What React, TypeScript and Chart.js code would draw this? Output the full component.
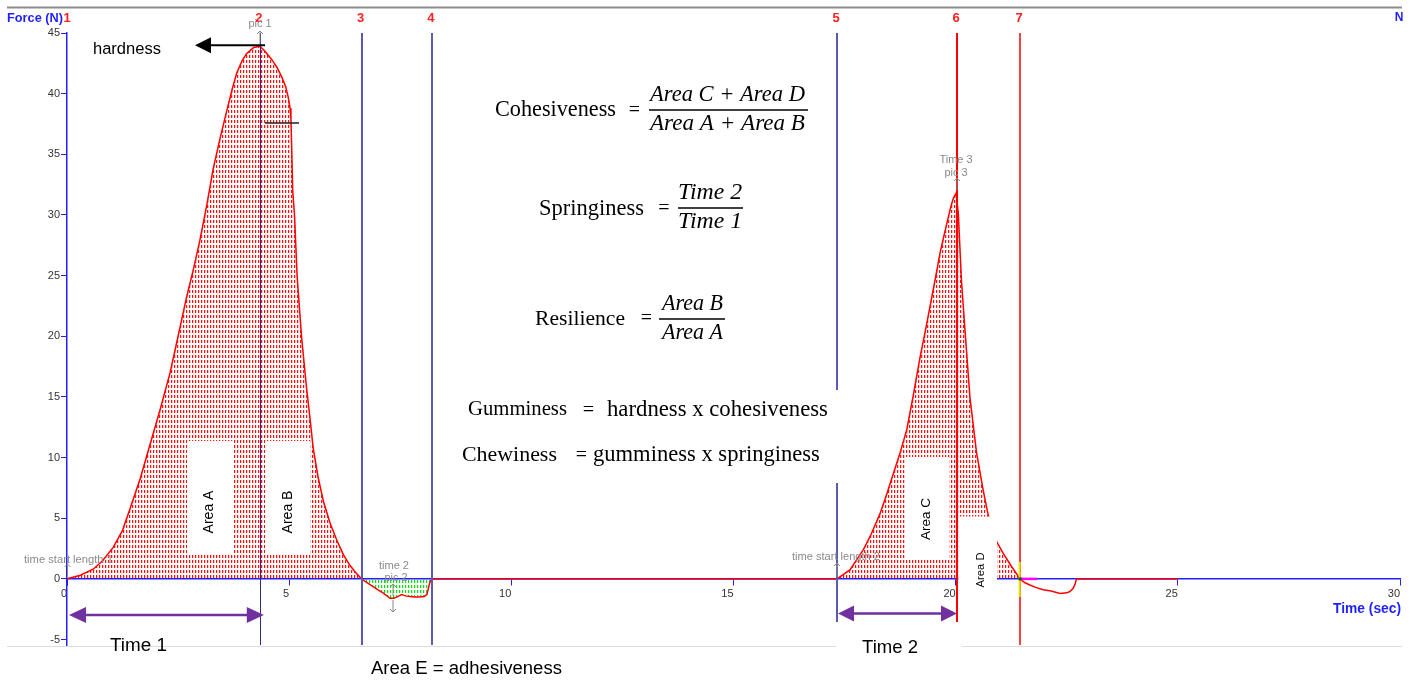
import { useEffect, useRef } from "react";
import { Chart, registerables } from "chart.js";

Chart.register(...registerables);

// ---- data (time in s, force in N) ----
const peak1Time = [0, 0.3, 0.59, 0.8, 1.04, 1.25, 1.42, 1.65, 1.87, 2.1, 2.32, 2.5, 2.69, 2.85, 2.99, 3.15, 3.29, 3.45, 3.59, 3.72, 3.82, 3.94, 4.04, 4.2, 4.34, 4.43, 4.52, 4.61, 4.72, 4.83, 4.92, 4.98, 5.02, 5.04, 5.06, 5.08, 5.12, 5.18, 5.28, 5.39, 5.47, 5.54, 5.65, 5.77, 5.92, 6.07, 6.22, 6.37, 6.5, 6.63];
const peak1Force = [0, 0.3, 0.8, 1.5, 2.6, 4.0, 5.8, 8.3, 11.1, 14.0, 17.0, 20.0, 23.2, 25.6, 27.9, 30.9, 33.8, 36.4, 38.5, 40.4, 41.7, 42.7, 43.3, 43.8, 43.9, 43.6, 43.2, 42.8, 42.2, 41.4, 40.6, 39.7, 38.8, 37.9, 35.0, 32.0, 30.0, 24.9, 19.9, 15.8, 13.2, 10.8, 8.4, 6.4, 4.6, 3.2, 2.0, 1.1, 0.5, 0];

const adhesionTime = [6.63, 6.75, 6.89, 7.0, 7.12, 7.27, 7.35, 7.42, 7.53, 7.62, 7.72, 7.83, 7.94, 8.04, 8.1, 8.16, 8.21];
const adhesionForce = [0, -0.3, -0.63, -0.9, -1.18, -1.6, -1.6, -1.5, -1.3, -1.4, -1.46, -1.5, -1.5, -1.45, -1.3, -0.36, 0];

const restTime = [8.21, 17.33];
const restForce = [0, 0];

const peak2Time = [17.33, 17.62, 17.92, 18.1, 18.3, 18.45, 18.6, 18.75, 18.9, 19.05, 19.2, 19.31, 19.42, 19.54, 19.65, 19.75, 19.84, 19.9, 19.95, 20.01, 20.06, 20.13, 20.21, 20.32, 20.47, 20.62, 20.73, 20.92, 21.07, 21.26, 21.45];
const peak2Force = [0, 0.74, 2.39, 3.7, 5.4, 7.0, 8.7, 10.4, 12.3, 15.2, 18.3, 20.3, 22.4, 24.7, 26.9, 28.5, 29.9, 30.8, 31.4, 31.8, 30.1, 24.6, 20.5, 15.0, 10.4, 7.3, 5.3, 3.1, 2.1, 1.0, 0];

const tailTime = [21.45, 21.55, 21.67, 21.8, 21.97, 22.15, 22.35, 22.5, 22.57, 22.64, 22.68, 22.72, 25];
const tailForce = [0, -0.3, -0.5, -0.7, -0.9, -1.0, -1.2, -1.15, -1.04, -0.8, -0.5, 0, 0];

const xTicks = [0, 5, 10, 15, 20, 25, 30];
const yTicks = [-5, 0, 5, 10, 15, 20, 25, 30, 35, 40, 45];

const markerTimes = [0, 4.34, 6.63, 8.21, 17.33, 20.03, 21.45];
const markerLabels = ["1", "2", "3", "4", "5", "6", "7"];

const hardnessValue = 43.9;

const SANS = '"Liberation Sans", Arial, sans-serif';
const SERIF = '"Liberation Serif", "Times New Roman", serif';
const BLUE = "#1f1fff";

function pts(t: number[], f: number[]) {
  return t.map((v, i) => ({ x: v, y: f[i] }));
}

function makePattern(main: string, halo: string) {
  const c = document.createElement("canvas");
  c.width = 3;
  c.height = 5;
  const g = c.getContext("2d")!;
  g.fillStyle = main;
  g.fillRect(0, 0, 1, 3);
  g.fillStyle = halo;
  g.fillRect(1, 0, 1, 3);
  return g.createPattern(c, "repeat")!;
}

function fitText(
  ctx: CanvasRenderingContext2D,
  text: string,
  x: number,
  y: number,
  width: number,
  o: { family?: string; weight?: string; style?: string; color?: string; align?: CanvasTextAlign; base?: number } = {}
) {
  const family = o.family || SANS;
  const weight = o.weight || "normal";
  const style = o.style || "normal";
  const base = o.base || 16;
  ctx.font = `${style} ${weight} ${base}px ${family}`;
  const w = ctx.measureText(text).width;
  const size = (base * width) / w;
  ctx.font = `${style} ${weight} ${size.toFixed(2)}px ${family}`;
  ctx.fillStyle = o.color || "#000";
  ctx.textAlign = o.align || "left";
  ctx.textBaseline = "middle";
  ctx.fillText(text, x, y);
}

function plainText(
  ctx: CanvasRenderingContext2D,
  text: string,
  x: number,
  y: number,
  font: string,
  color: string,
  align: CanvasTextAlign = "center"
) {
  ctx.font = font;
  ctx.fillStyle = color;
  ctx.textAlign = align;
  ctx.textBaseline = "middle";
  ctx.fillText(text, x, y);
}

function line(ctx: CanvasRenderingContext2D, x1: number, y1: number, x2: number, y2: number, color: string, w: number) {
  ctx.beginPath();
  ctx.moveTo(x1, y1);
  ctx.lineTo(x2, y2);
  ctx.strokeStyle = color;
  ctx.lineWidth = w;
  ctx.stroke();
}

function tri(ctx: CanvasRenderingContext2D, tipX: number, y: number, baseX: number, half: number, color: string) {
  ctx.beginPath();
  ctx.moveTo(tipX, y);
  ctx.lineTo(baseX, y - half);
  ctx.lineTo(baseX, y + half);
  ctx.closePath();
  ctx.fillStyle = color;
  ctx.fill();
}

function chevronUp(ctx: CanvasRenderingContext2D, x: number, y1: number, y2: number, color: string) {
  line(ctx, x, y1, x, y2, color, 1);
  ctx.beginPath();
  ctx.moveTo(x - 3, y1 + 3);
  ctx.lineTo(x, y1);
  ctx.lineTo(x + 3, y1 + 3);
  ctx.strokeStyle = color;
  ctx.lineWidth = 1;
  ctx.stroke();
}

function chevronDown(ctx: CanvasRenderingContext2D, x: number, y1: number, y2: number, color: string) {
  line(ctx, x, y1, x, y2, color, 1);
  ctx.beginPath();
  ctx.moveTo(x - 3, y2 - 3);
  ctx.lineTo(x, y2);
  ctx.lineTo(x + 3, y2 - 3);
  ctx.strokeStyle = color;
  ctx.lineWidth = 1;
  ctx.stroke();
}

const overlayPlugin = {
  id: "tpaOverlay",
  afterDraw(chart: any) {
    const ctx: CanvasRenderingContext2D = chart.ctx;
    const xs = chart.scales.x;
    const ys = chart.scales.y;
    const top = chart.chartArea.top;
    const bottom = chart.chartArea.bottom;
    const mx = markerTimes.map((t) => xs.getPixelForValue(t));
    ctx.save();

    // top and bottom frame lines
    line(ctx, 7, 7.5, 1402, 7.5, "#8c8c8c", 2);
    line(ctx, 7, 646.5, 1402, 646.5, "#dcdcdc", 1);

    // vertical marker lines
    const mColors = ["", "#2a2a8c", "#5a5ab4", "#5a5ab4", "#5a5ab4", "#ff0000", "#ff0000"];
    const mWidths = [0, 1, 2, 2, 2, 2, 1.5];
    const mBottoms = [0, bottom, bottom, bottom, 622, 622, bottom];
    for (let i = 1; i < mx.length; i++) {
      const x = Math.round(mx[i]) + (mWidths[i] === 1 ? 0.5 : 0);
      line(ctx, x, top, x, mBottoms[i], mColors[i], mWidths[i]);
    }

    // marker decorations at line 7 crossing
    line(ctx, mx[6] - 0.5, 562, mx[6] - 0.5, 597, "#e6e600", 2);
    line(ctx, mx[6], ys.getPixelForValue(0), mx[6] + 17, ys.getPixelForValue(0), "#ff00ff", 2.5);
    ctx.fillStyle = "#205020";
    ctx.fillRect(mx[6] - 1.5, ys.getPixelForValue(0) - 1.5, 3, 3);

    // white annotation boxes
    ctx.fillStyle = "#ffffff";
    const boxes = [
      [187, 441, 46, 112],
      [265, 441, 45, 112],
      [905, 457, 44, 103],
      [958.5, 516.5, 38.5, 84],
      [455, 390, 383.5, 93],
      [351, 647, 279, 35],
      [90, 647, 122, 35],
      [836, 622, 126, 60],
    ];
    for (const b of boxes) ctx.fillRect(b[0], b[1], b[2], b[3]);

    // top labels
    fitText(ctx, "Force (N)", 7, 18, 56, { weight: "bold", color: BLUE, base: 12 });
    for (let i = 0; i < mx.length; i++) {
      plainText(ctx, markerLabels[i], mx[i] + (i === 0 ? 0 : -1), 18, `bold 13px ${SANS}`, "#ff2020");
    }
    plainText(ctx, "N", 1399, 18, `bold 12px ${SANS}`, BLUE);
    fitText(ctx, "Time (sec)", 1401, 609, 68, { weight: "bold", color: BLUE, align: "right", base: 13 });

    // small gray software annotations
    const gray = "#8a8a8a";
    const gfont = `11px ${SANS}`;
    plainText(ctx, "pic 1", 260, 24, gfont, gray);
    chevronUp(ctx, 260, 31, 44, gray);
    plainText(ctx, "Time 3", 956, 160, gfont, gray);
    plainText(ctx, "pic 3", 956, 173, gfont, gray);
    chevronUp(ctx, 957, 178, 190, gray);
    plainText(ctx, "time 2", 394, 566, gfont, gray);
    plainText(ctx, "pic 2", 396, 578, gfont, gray);
    chevronUp(ctx, 393, 584, 596, gray);
    chevronDown(ctx, 393, 600, 612, gray);
    fitText(ctx, "time start length 1", 24, 560, 89, { color: gray, base: 11 });
    fitText(ctx, "time start length 2", 792, 557, 88, { color: gray, base: 11 });
    chevronUp(ctx, 67.5, 564, 578, gray);
    chevronUp(ctx, 837, 563, 577, gray);

    // hardness arrow
    const hy = ys.getPixelForValue(hardnessValue) - 1;
    line(ctx, 208, hy, 265, hy, "#000", 2);
    tri(ctx, 195, hy, 211, 8, "#000");
    line(ctx, 265, 123, 299, 123, "#222", 1.5);
    fitText(ctx, "hardness", 93, 49, 68, { base: 16 });

    // Time arrows (purple)
    const purple = "#7030a0";
    line(ctx, mx[0] + 10, 615, mx[1] - 10, 615, purple, 2.5);
    tri(ctx, mx[0] + 2, 615, mx[0] + 19, 8, purple);
    tri(ctx, mx[1] + 4, 615, mx[1] - 13, 8, purple);
    line(ctx, mx[4] + 10, 613.5, mx[5] - 10, 613.5, purple, 2.5);
    tri(ctx, mx[4] + 1, 613.5, mx[4] + 17, 8, purple);
    tri(ctx, mx[5], 613.5, mx[5] - 16, 8, purple);

    fitText(ctx, "Time 1", 110, 646, 57, { base: 18 });
    fitText(ctx, "Time 2", 862, 648, 56, { base: 18 });
    fitText(ctx, "Area E = adhesiveness", 371, 669, 191, { base: 18 });

    // rotated area labels
    const rot = (text: string, cx: number, cy: number, len: number) => {
      ctx.save();
      ctx.translate(cx, cy);
      ctx.rotate(-Math.PI / 2);
      fitText(ctx, text, 0, 0, len, { align: "center", base: 14 });
      ctx.restore();
    };
    rot("Area A", 209, 512, 43);
    rot("Area B", 288, 512, 43);
    rot("Area C", 926, 519, 42);
    rot("Area D", 981, 570, 35);

    // formulas
    const eq = (x: number, y: number) => plainText(ctx, "=", x, y, `20px ${SERIF}`, "#000");
    const frac = (num: string, den: string, x1: number, x2: number, yBar: number, tx: number, tw: number) => {
      fitText(ctx, num, tx, yBar - 15, tw, { family: SERIF, style: "italic", base: 19 });
      line(ctx, x1, yBar, x2, yBar, "#000", 1.5);
      fitText(ctx, den, tx, yBar + 14, tw, { family: SERIF, style: "italic", base: 19 });
    };
    fitText(ctx, "Cohesiveness", 495, 110, 121, { family: SERIF, base: 19 });
    eq(634.5, 111);
    frac("Area C + Area D", "Area A + Area B", 649, 808, 110, 650, 155);

    fitText(ctx, "Springiness", 539, 209, 105, { family: SERIF, base: 19 });
    eq(664, 209);
    frac("Time 2", "Time 1", 678, 743, 208, 678, 64);

    fitText(ctx, "Resilience", 535, 319, 90, { family: SERIF, base: 19 });
    eq(646.5, 319);
    frac("Area B", "Area A", 659, 725, 319, 662, 61);

    fitText(ctx, "Gumminess", 468, 410, 99, { family: SERIF, base: 19 });
    eq(588.5, 411);
    fitText(ctx, "hardness x cohesiveness", 607, 410, 221, { family: SERIF, base: 19 });
    fitText(ctx, "Chewiness", 462, 455, 95, { family: SERIF, base: 19 });
    eq(581.5, 456);
    fitText(ctx, "gumminess x springiness", 593, 455, 227, { family: SERIF, base: 19 });

    ctx.restore();
  },
};

export default function App() {
  const ref = useRef<HTMLCanvasElement | null>(null);

  useEffect(() => {
    if (!ref.current) return;
    const redPat = makePattern("rgba(255,0,0,0.95)", "rgba(255,60,60,0.3)");
    const greenPat = makePattern("rgba(0,220,0,0.95)", "rgba(60,230,60,0.3)");
    const red = "#ff0000";
    const common = { borderColor: red, borderWidth: 1.5, pointRadius: 0, tension: 0 };

    const chart = new Chart(ref.current, {
      type: "line",
      data: {
        datasets: [
          { ...common, data: pts(peak1Time, peak1Force), fill: "origin", backgroundColor: redPat },
          { ...common, data: pts(adhesionTime, adhesionForce), fill: "origin", backgroundColor: greenPat },
          { ...common, data: pts(restTime, restForce), fill: false },
          { ...common, data: pts(peak2Time, peak2Force), fill: "origin", backgroundColor: redPat },
          { ...common, data: pts(tailTime, tailForce), fill: false },
        ] as any,
      },
      options: {
        animation: false,
        responsive: false,
        events: [],
        layout: { padding: { left: 0, top: 33, right: 11, bottom: 37 } },
        plugins: { legend: { display: false }, tooltip: { enabled: false } },
        scales: {
          x: {
            type: "linear",
            position: { y: 0 } as any,
            min: 0,
            max: 30,
            afterFit: (s: any) => {
              s.height = 0;
            },
            afterBuildTicks: (s: any) => {
              s.ticks = xTicks.map((v) => ({ value: v }));
            },
            grid: { drawOnChartArea: false, drawTicks: true, tickLength: 6, color: BLUE, lineWidth: 1 },
            border: { display: true, color: BLUE, width: 1.5 },
            ticks: { align: "end", padding: 2, color: "#333", font: { family: SANS, size: 11 } },
          },
          y: {
            type: "linear",
            position: "left",
            min: -5.45,
            max: 45,
            afterFit: (s: any) => {
              s.width = 67;
            },
            afterBuildTicks: (s: any) => {
              s.ticks = yTicks.map((v) => ({ value: v }));
            },
            grid: { drawOnChartArea: false, drawTicks: true, tickLength: 6, color: BLUE, lineWidth: 1 },
            border: { display: true, color: BLUE, width: 1.5 },
            ticks: { padding: 1, color: "#333", font: { family: SANS, size: 11 } },
          },
        },
      } as any,
      plugins: [overlayPlugin],
    });
    return () => chart.destroy();
  }, []);

  return (
    <div style={{ position: "absolute", left: 0, top: 0, width: 1411, height: 682, background: "#fff" }}>
      <canvas ref={ref} width={1411} height={682} style={{ display: "block", width: 1411, height: 682 }} />
    </div>
  );
}
